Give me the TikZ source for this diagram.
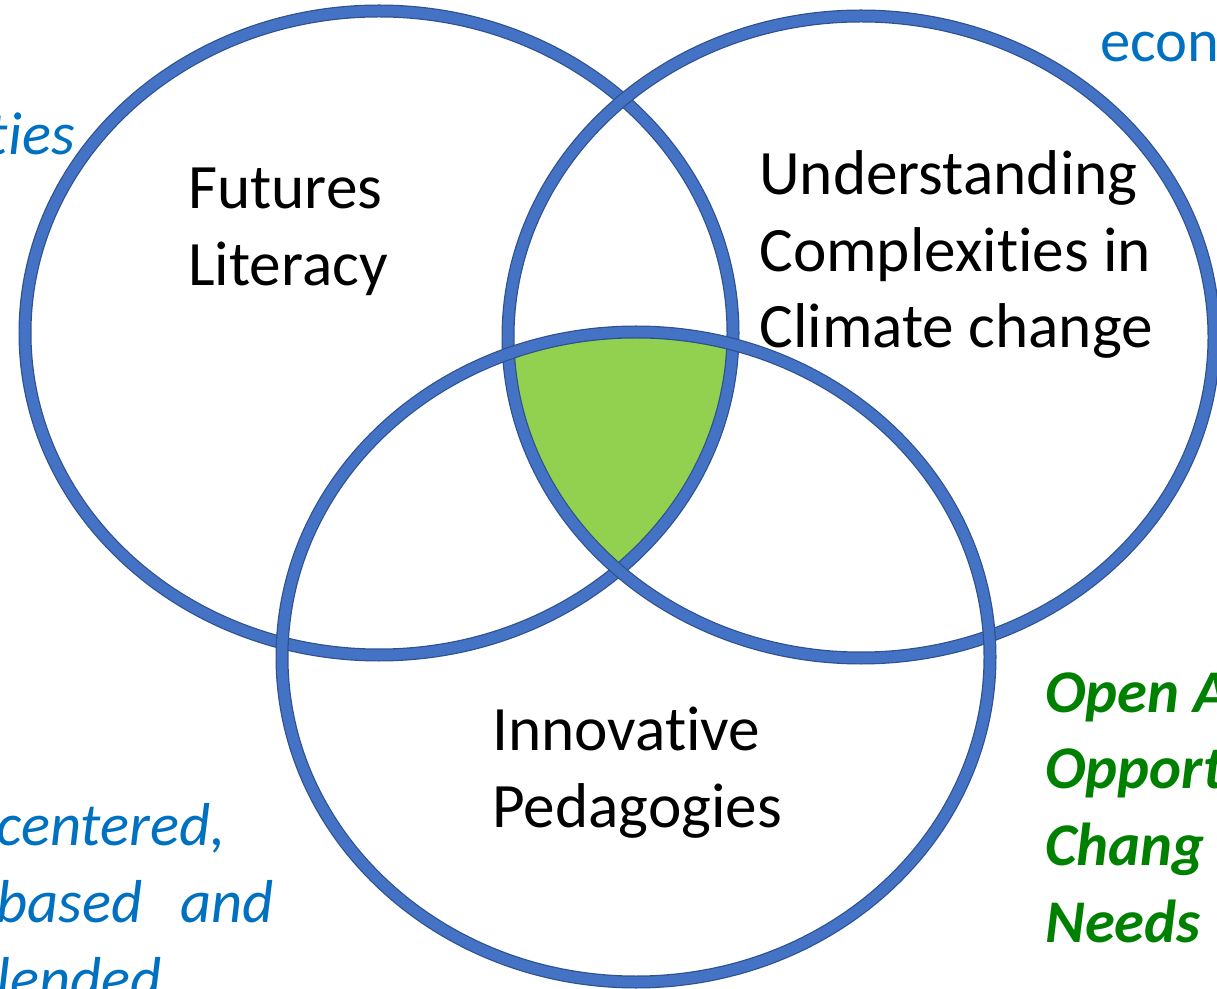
\documentclass[tikz,border=0pt]{standalone}
\usepackage{fontspec}
\setmainfont{Carlito}[RawFeature={-liga;-clig;-dlig;-calt}]
\usepackage{tikz}

\definecolor{ringblue}{HTML}{4472C4}
\definecolor{ringedge}{HTML}{2F528F}
\definecolor{overlapgreen}{HTML}{92D050}
\definecolor{noteblue}{HTML}{0070C0}
\definecolor{notegreen}{HTML}{008000}

\begin{document}
\begin{tikzpicture}
  [x=0.02cm,y=-0.02cm,
   ring/.style={draw=ringedge,line width=0.7pt,double=ringblue,double distance=6pt},
   topic/.style={inner sep=0pt,align=left,font=\fontsize{36}{43.7}\selectfont},
   side note/.style={topic,text=noteblue,font=\fontsize{34.5}{43.7}\selectfont\itshape},
   side bold/.style={topic,text=notegreen,font=\fontsize{34.5}{43.7}\selectfont\bfseries\itshape}]

  \useasboundingbox (0,0) rectangle (1217,989);

  % shared middle part
  \begin{scope}
    \clip (379,333) ellipse [x radius=354,y radius=322];
    \clip (861,337) ellipse [x radius=353,y radius=321];
    \fill [overlapgreen] (636,657) ellipse [x radius=354,y radius=325];
  \end{scope}

  % the three rings
  \draw [ring] (379,333) ellipse [x radius=354,y radius=322];
  \draw [ring] (861,337) ellipse [x radius=353,y radius=321];
  \draw [ring] (636,657) ellipse [x radius=354,y radius=325];

  \node [topic,anchor=north west] (futures)  at (188,168) {Futures\\Literacy};
  \node [topic,anchor=north west] (climate)  at (759,150) {Understanding\\Complexities in\\Climate change};
  \node [topic,anchor=north west] (pedagogy) at (492,707) {Innovative\\Pedagogies};

  % notes cut by the page edge
  \node [side note,anchor=base east] (tiesnote)   at (75,155)   {ties};
  \node [side note,anchor=base west,font=\fontsize{34.5}{43.7}\selectfont\upshape] (econnote) at (1100,62) {econ};
  \node [side note,anchor=north west] (methodnote) at (-4,803)  {centered,\\based\hspace{0.4em} and\\lended};
  \node [side bold,anchor=north west] (accessnote) at (1045,672) {Open A\\Opport\\Chang\\Needs};
\end{tikzpicture}
\end{document}
